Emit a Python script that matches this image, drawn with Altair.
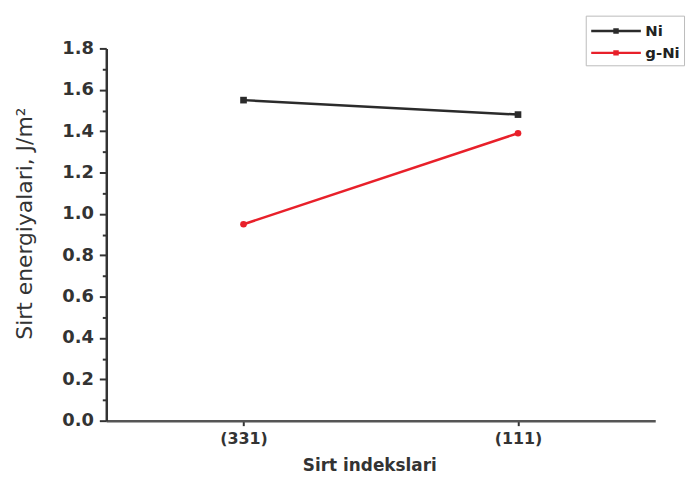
import altair as alt
import pandas as pd

facets = ["(331)", "(111)"]
series = ["Ni", "g-Ni"]
ni_values = [1.55, 1.48]
gni_values = [0.95, 1.39]
colors = ["#2b2b2b", "#e8202a"]
shapes = ["square", "circle"]

rows = []
for f, v in zip(facets, ni_values):
    rows.append({"facet": f, "series": "Ni", "value": v})
for f, v in zip(facets, gni_values):
    rows.append({"facet": f, "series": "g-Ni", "value": v})
df = pd.DataFrame(rows)

FONT = "DejaVu Sans"

x_enc = alt.X(
    "facet:N",
    sort=facets,
    scale=alt.Scale(padding=0.5),
    axis=alt.Axis(
        title="Sirt indekslari",
        labelAngle=0,
        labelFont=FONT,
        labelFontWeight="bold",
        labelFontSize=16,
        labelColor="#333",
        labelPadding=5,
        tickSize=5,
        tickWidth=2,
        tickColor="#333",
        domainColor="#555",
        domainWidth=2.5,
        titleFont=FONT,
        titleFontWeight="bold",
        titleFontSize=17,
        titleColor="#333",
        titleX=265,
        titleY=45,
        titleBaseline="middle",
        titleAlign="center",
        grid=False,
    ),
)

minor_test = "round(datum.value * 10) % 2 === 1"
y_enc = alt.Y(
    "value:Q",
    scale=alt.Scale(domain=[0, 1.8], nice=False),
    axis=alt.Axis(
        title="Sirt energiyalari, J/m²",
        values=[round(i * 0.1, 1) for i in range(19)],
        labelExpr="round(datum.value * 10) % 2 === 0 ? format(datum.value, '.1f') : ''",
        labelFont=FONT,
        labelFontWeight="bold",
        labelFontSize=18,
        labelColor="#333",
        labelPadding=6,
        tickSize={"condition": {"test": minor_test, "value": 4}, "value": 7},
        tickWidth=2,
        tickColor="#333",
        domainColor="#333",
        domainWidth=2.5,
        titleFont=FONT,
        titleFontWeight="normal",
        titleFontSize=22,
        titleColor="#333",
        titleX=-82,
        titleY=176,
        titleAlign="center",
        titleBaseline="middle",
        grid=False,
    ),
)

color_enc = alt.Color(
    "series:N",
    sort=series,
    scale=alt.Scale(domain=series, range=colors),
    legend=alt.Legend(
        title=None,
        orient="none",
        legendX=483,
        legendY=-33,
        labelFont=FONT,
        labelFontWeight="bold",
        labelFontSize=15,
        labelColor="#222",
        symbolType="M-1,0H4M1.35,-0.15H1.65V0.15H1.35Z",
        symbolSize=400,
        symbolStrokeWidth=2.5,
        labelOffset=33,
        strokeColor="#bbbbbb",
        fillColor="white",
        padding=4,
        rowPadding=2,
    ),
)

base = alt.Chart(df)
lines = base.mark_line(strokeWidth=2.5).encode(x=x_enc, y=y_enc, color=color_enc)

point_layers = []
for s, c, sh in zip(series, colors, shapes):
    point_layers.append(
        base.transform_filter(alt.datum.series == s)
        .mark_point(filled=True, size=45, opacity=1, shape=sh, color=c)
        .encode(x=x_enc, y=y_enc)
    )

chart = (
    alt.layer(lines, *point_layers)
    .properties(
        width=553,
        height=375,
        autosize=alt.AutoSizeParams(type="none"),
        padding={"left": 99, "top": 39, "right": 33, "bottom": 52},
        background="white",
    )
    .configure_view(stroke=None)
)

chart.save("out.html", embed_options={"renderer": "svg", "actions": False})
